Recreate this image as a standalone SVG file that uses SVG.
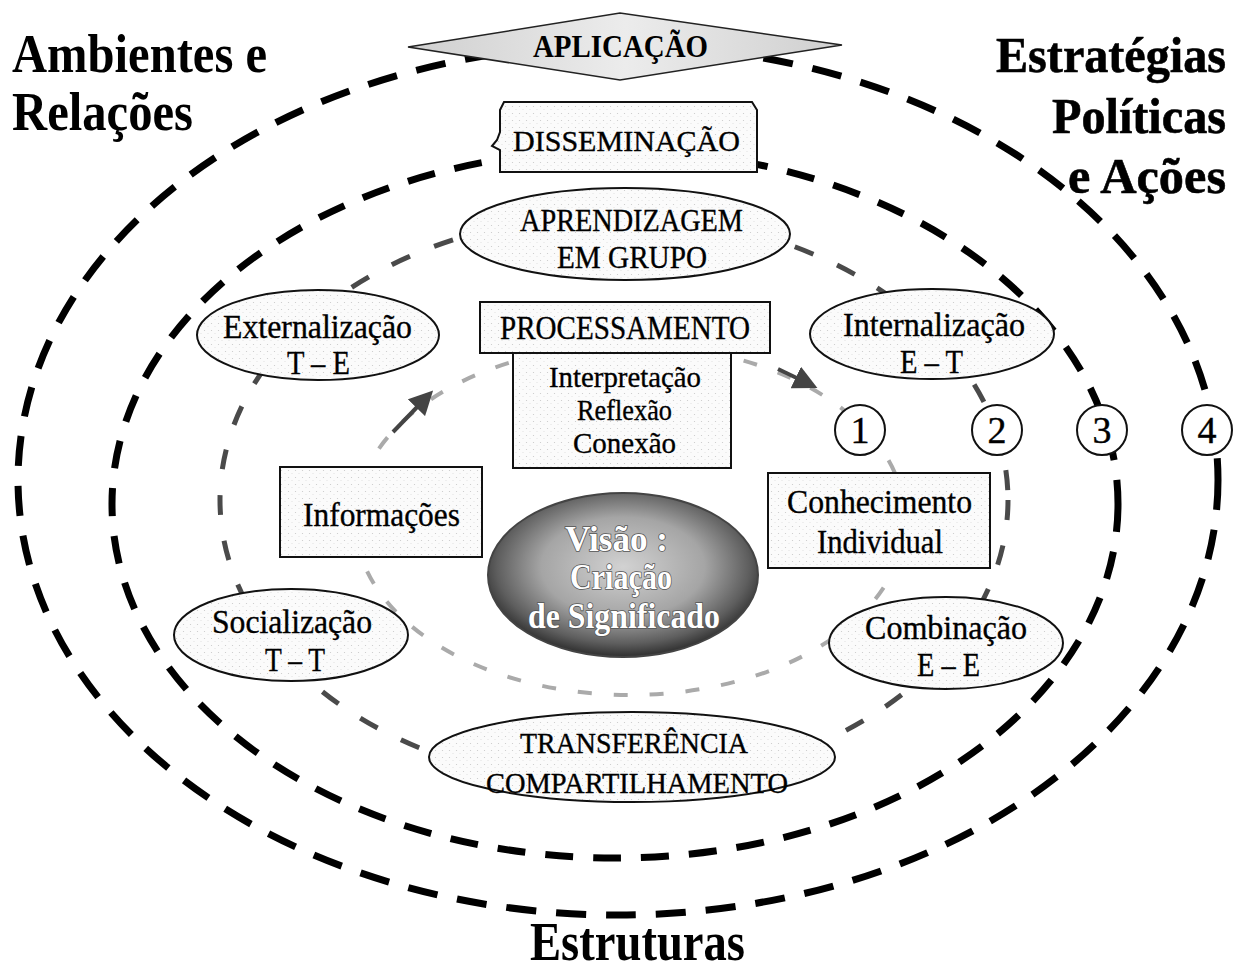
<svg xmlns="http://www.w3.org/2000/svg" width="1238" height="974" viewBox="0 0 1238 974">
<style>
text{font-family:"Liberation Serif","Times New Roman",serif;fill:#000}
.hd{font-weight:bold;font-size:54px}
.hr{font-weight:bold;font-size:50px;stroke:#000;stroke-width:0.6}
.lb{font-size:33px;stroke:#000;stroke-width:0.35}
.nd{stroke:#111;stroke-width:2;fill:url(#dots)}
.vis{font-weight:bold;font-size:35px;fill:#fff;stroke:#555;stroke-width:1.6;paint-order:stroke}
.num{font-size:38px;text-anchor:middle;stroke:#000;stroke-width:0.4}
.ring4{fill:none;stroke:#000;stroke-width:7;stroke-dasharray:30 20}
.ring3{fill:none;stroke:#000;stroke-width:7;stroke-dasharray:28 20}
.ring2{fill:none;stroke:#4a4a4a;stroke-width:5;stroke-dasharray:20 26}
.ring1{fill:none;stroke:#aaa;stroke-width:4;stroke-dasharray:14 22}
.arr{stroke:#444;stroke-width:4;fill:none;marker-end:url(#ah)}
</style>
<defs>
<pattern id="dots" width="7" height="7" patternUnits="userSpaceOnUse">
<rect width="7" height="7" fill="#fbfbfb"/>
<circle cx="1.5" cy="1.5" r="0.6" fill="#c8c8c8"/>
<circle cx="5" cy="4.5" r="0.5" fill="#dadada"/>
</pattern>
<linearGradient id="dia" x1="0" y1="0" x2="1" y2="0">
<stop offset="0" stop-color="#cfcfcf"/>
<stop offset="0.5" stop-color="#ececec"/>
<stop offset="1" stop-color="#cfcfcf"/>
</linearGradient>
<radialGradient id="visg" cx="50%" cy="45%" r="55%">
<stop offset="0" stop-color="#d2d2d2"/>
<stop offset="0.55" stop-color="#a5a5a5"/>
<stop offset="0.85" stop-color="#5e5e5e"/>
<stop offset="1" stop-color="#2f2f2f"/>
</radialGradient>
<marker id="ah" markerWidth="6" markerHeight="6" refX="2" refY="3" orient="auto" markerUnits="strokeWidth">
<path d="M0,0 L6,3 L0,6 Z" fill="#444"/>
</marker>
</defs>
<rect width="1238" height="974" fill="#fff"/>

<g id="connectors">
<ellipse class="ring4" cx="618" cy="480" rx="600" ry="435"/>
<ellipse class="ring3" cx="615" cy="504" rx="503" ry="354"/>
<ellipse class="ring2" cx="614" cy="500" rx="394" ry="285"/>
<ellipse class="ring1" cx="630" cy="520" rx="275" ry="175"/>
<line class="arr" x1="393" y1="432" x2="422" y2="402"/>
<line class="arr" x1="778" y1="369" x2="803" y2="381"/>
</g>

<g id="labels">
<text class="hd" x="12" y="72" textLength="255" lengthAdjust="spacingAndGlyphs">Ambientes e</text>
<text class="hd" x="12" y="130" textLength="181" lengthAdjust="spacingAndGlyphs">Relações</text>
<text class="hr" x="996" y="72" textLength="230" lengthAdjust="spacingAndGlyphs">Estratégias</text>
<text class="hr" x="1052" y="133" textLength="174" lengthAdjust="spacingAndGlyphs">Políticas</text>
<text class="hr" x="1068" y="193" textLength="158" lengthAdjust="spacingAndGlyphs">e Ações</text>
<text class="hd" x="530" y="960" textLength="215" lengthAdjust="spacingAndGlyphs">Estruturas</text>
</g>

<g id="aplicacao">
<polygon points="408,47 620,13 842,45 620,80" fill="url(#dia)" stroke="#222" stroke-width="1.5"/>
<text x="533" y="57" style="font-size:31px;font-weight:bold" textLength="175" lengthAdjust="spacingAndGlyphs">APLICAÇÃO</text>
</g>

<g id="disseminacao">
<path d="M504,102 H752 L757,110 V172 H500 V150 L492,146 L497,140 L500,132 V110 Z" fill="url(#dots)" stroke="#111" stroke-width="2"/>
<text class="lb" x="513" y="151" style="font-size:30px" textLength="227" lengthAdjust="spacingAndGlyphs">DISSEMINAÇÃO</text>
</g>

<g id="aprendizagem">
<ellipse class="nd" cx="625" cy="234" rx="165" ry="46"/>
<text class="lb" x="520" y="231" style="font-size:31px" textLength="223" lengthAdjust="spacingAndGlyphs">APRENDIZAGEM</text>
<text class="lb" x="557" y="268" style="font-size:31px" textLength="150" lengthAdjust="spacingAndGlyphs">EM GRUPO</text>
</g>

<g id="externalizacao">
<ellipse class="nd" cx="318" cy="335" rx="121" ry="45"/>
<text class="lb" x="223" y="338" textLength="189" lengthAdjust="spacingAndGlyphs">Externalização</text>
<text class="lb" x="287" y="374" textLength="63" lengthAdjust="spacingAndGlyphs">T – E</text>
</g>

<g id="internalizacao">
<ellipse class="nd" cx="932" cy="334" rx="122" ry="45"/>
<text class="lb" x="843" y="336" textLength="182" lengthAdjust="spacingAndGlyphs">Internalização</text>
<text class="lb" x="900" y="373" textLength="63" lengthAdjust="spacingAndGlyphs">E – T</text>
</g>

<g id="processamento">
<rect class="nd" x="480" y="302" width="290" height="51"/>
<text class="lb" x="500" y="339" textLength="250" lengthAdjust="spacingAndGlyphs">PROCESSAMENTO</text>
</g>

<g id="interpretacao">
<rect class="nd" x="513" y="353" width="218" height="115"/>
<text class="lb" x="549" y="387" style="font-size:30px" textLength="152" lengthAdjust="spacingAndGlyphs">Interpretação</text>
<text class="lb" x="577" y="420" style="font-size:30px" textLength="95" lengthAdjust="spacingAndGlyphs">Reflexão</text>
<text class="lb" x="573" y="453" style="font-size:30px" textLength="103" lengthAdjust="spacingAndGlyphs">Conexão</text>
</g>

<g id="informacoes">
<rect class="nd" x="280" y="467" width="202" height="90"/>
<text class="lb" x="303" y="526" textLength="157" lengthAdjust="spacingAndGlyphs">Informações</text>
</g>

<g id="conhecimento">
<rect class="nd" x="768" y="473" width="222" height="95"/>
<text class="lb" x="787" y="513" textLength="185" lengthAdjust="spacingAndGlyphs">Conhecimento</text>
<text class="lb" x="817" y="553" textLength="126" lengthAdjust="spacingAndGlyphs">Individual</text>
</g>

<g id="visao">
<ellipse cx="623" cy="575" rx="135" ry="82" fill="url(#visg)" stroke="#444" stroke-width="2"/>
<text class="vis" x="565" y="551" textLength="103" lengthAdjust="spacingAndGlyphs">Visão :</text>
<text class="vis" x="570" y="589" textLength="102" lengthAdjust="spacingAndGlyphs">Criação</text>
<text class="vis" x="528" y="628" textLength="192" lengthAdjust="spacingAndGlyphs">de Significado</text>
</g>

<g id="socializacao">
<ellipse class="nd" cx="291" cy="635" rx="117" ry="46"/>
<text class="lb" x="212" y="633" textLength="160" lengthAdjust="spacingAndGlyphs">Socialização</text>
<text class="lb" x="265" y="671" textLength="60" lengthAdjust="spacingAndGlyphs">T – T</text>
</g>

<g id="combinacao">
<ellipse class="nd" cx="946" cy="643" rx="117" ry="46"/>
<text class="lb" x="865" y="639" textLength="162" lengthAdjust="spacingAndGlyphs">Combinação</text>
<text class="lb" x="917" y="676" textLength="63" lengthAdjust="spacingAndGlyphs">E – E</text>
</g>

<g id="transferencia">
<ellipse class="nd" cx="632" cy="757" rx="203" ry="45"/>
<text class="lb" x="520" y="753" style="font-size:30px" textLength="228" lengthAdjust="spacingAndGlyphs">TRANSFERÊNCIA</text>
<text class="lb" x="486" y="793" style="font-size:30px" textLength="302" lengthAdjust="spacingAndGlyphs">COMPARTILHAMENTO</text>
</g>

<g id="n1"><circle cx="860" cy="430" r="25" fill="#fff" stroke="#111" stroke-width="2"/><text class="num" x="860" y="443">1</text></g>
<g id="n2"><circle cx="997" cy="430" r="25" fill="#fff" stroke="#111" stroke-width="2"/><text class="num" x="997" y="443">2</text></g>
<g id="n3"><circle cx="1102" cy="430" r="25" fill="#fff" stroke="#111" stroke-width="2"/><text class="num" x="1102" y="443">3</text></g>
<g id="n4"><circle cx="1207" cy="430" r="25" fill="#fff" stroke="#111" stroke-width="2"/><text class="num" x="1207" y="443">4</text></g>
</svg>
